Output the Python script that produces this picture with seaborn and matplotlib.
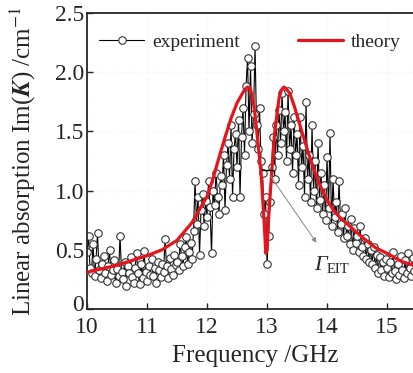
import numpy as np
import pandas as pd
import seaborn as sns
import matplotlib.pyplot as plt
from matplotlib.transforms import ScaledTranslation

# experiment: sampled every 0.025 GHz from 10 to 15.5 GHz
freq = np.round(np.arange(10.0, 15.5001, 0.025), 3)
absorption = [
    0.48, 0.62, 0.35, 0.30, 0.55, 0.28, 0.42, 0.64, 0.33, 0.26,
    0.38, 0.45, 0.30, 0.24, 0.36, 0.50, 0.29, 0.33, 0.41, 0.22,
    0.34, 0.28, 0.62, 0.31, 0.25, 0.40, 0.19, 0.36, 0.30, 0.44,
    0.27, 0.22, 0.35, 0.47, 0.30, 0.21, 0.38, 0.26, 0.49, 0.31,
    0.24, 0.36, 0.29, 0.42, 0.28, 0.35, 0.22, 0.40, 0.33, 0.27,
    0.38, 0.31, 0.59, 0.36, 0.26, 0.43, 0.34, 0.29, 0.46, 0.37,
    0.40, 0.33, 0.55, 0.45, 0.36, 0.52, 0.61, 0.38, 0.48, 0.56,
    0.42, 0.66, 1.08, 0.72, 0.95, 0.46, 0.84, 0.97, 0.70, 0.91,
    0.78, 1.08, 0.86, 0.47, 1.00, 0.88, 1.15, 0.95, 0.80, 1.12,
    1.05, 1.30, 0.84, 1.22, 1.40, 1.10, 1.55, 0.95, 1.35, 1.48,
    1.20, 1.60, 0.95, 1.45, 1.70, 1.30, 1.88, 2.12, 1.50, 2.05,
    1.40, 1.65, 2.22, 1.55, 1.35, 1.70, 1.25, 1.15, 0.80, 0.95,
    0.38, 0.62, 0.90, 1.20, 1.45, 1.10, 1.55, 1.30, 1.68, 1.40,
    1.82, 1.50, 1.66, 1.25, 1.84, 1.35, 1.55, 1.15, 1.62, 1.30,
    1.48, 1.05, 1.62, 1.20, 1.38, 0.95, 1.75, 1.10, 1.30, 0.90,
    1.55, 1.00, 1.25, 0.85, 1.40, 0.92, 1.15, 0.80, 1.05, 0.75,
    1.28, 0.85, 1.49, 0.70, 1.10, 0.78, 0.90, 0.65, 1.08, 0.72,
    0.80, 0.60, 0.85, 0.62, 0.70, 0.55, 0.76, 0.50, 0.68, 0.56,
    0.62, 0.48, 0.70, 0.52, 0.45, 0.60, 0.42, 0.55, 0.40, 0.50,
    0.38, 0.52, 0.35, 0.46, 0.30, 0.44, 0.33, 0.40, 0.28, 0.42,
    0.35, 0.27, 0.40, 0.30, 0.48, 0.32, 0.25, 0.38, 0.29, 0.45,
    0.33, 0.26, 0.41, 0.30, 0.47, 0.35, 0.28, 0.43, 0.32, 0.38,
    0.36,
]

# theory curve
theory_f = [10.0, 10.25, 10.5, 10.75, 11.0, 11.25, 11.5, 11.75, 12.0, 12.1,
            12.2, 12.3, 12.4, 12.5, 12.6, 12.64, 12.68, 12.72, 12.76, 12.8,
            12.85, 12.9, 12.95, 12.98, 13.0, 13.03, 13.08, 13.13, 13.2, 13.24,
            13.28, 13.32, 13.38, 13.45, 13.55, 13.7, 13.85, 14.0, 14.1, 14.2,
            14.4, 14.6, 14.8, 15.0, 15.25, 15.5, 15.6]
theory_v = [0.31, 0.34, 0.37, 0.41, 0.45, 0.50, 0.58, 0.73, 0.95, 1.10,
            1.28, 1.45, 1.61, 1.74, 1.83, 1.86, 1.875, 1.86, 1.79, 1.64,
            1.40, 1.15, 0.75, 0.47, 0.50, 0.80, 1.17, 1.50, 1.78, 1.85,
            1.875, 1.86, 1.82, 1.72, 1.55, 1.30, 1.08, 0.92, 0.84, 0.78,
            0.69, 0.60, 0.52, 0.47, 0.40, 0.36, 0.35]

exp_df = pd.DataFrame({'freq': freq, 'absorption': absorption})
th_df = pd.DataFrame({'freq': theory_f, 'absorption': theory_v})

sns.set_style('ticks')
plt.rcParams['font.family'] = ['Liberation Serif', 'DejaVu Serif']
plt.rcParams['mathtext.fontset'] = 'stix'
plt.rcParams['xtick.direction'] = 'in'
plt.rcParams['ytick.direction'] = 'in'

fig = plt.figure(figsize=(4.13, 3.73), dpi=100)
ax = fig.add_axes([0.2107, 0.1716, 0.8136, 0.7936])

sns.lineplot(data=exp_df, x='freq', y='absorption', ax=ax, sort=False,
             estimator=None, color='black', lw=0.8, marker='o', markersize=5.4,
             markerfacecolor='white', markeredgecolor='#333333',
             markeredgewidth=0.8, label='experiment', zorder=2)
sns.lineplot(data=th_df, x='freq', y='absorption', ax=ax, sort=False,
             estimator=None, color='#e8141c', lw=2.3, label='theory', zorder=3)

# Gamma_EIT width marker
ax.plot([12.92, 13.1], [1.17, 1.17], color='black', lw=1.0, zorder=4)
ax.annotate('', xy=(13.85, 0.54), xytext=(13.02, 1.15),
            arrowprops=dict(arrowstyle='-|>', color='#888888', lw=0.7,
                            mutation_scale=7))
ax.text(14.0, 0.37, 'Γ', fontsize=16, style='italic', ha='right', va='center')
ax.text(14.0, 0.33, 'EIT', fontsize=10.5, ha='left', va='center')

ax.set_xlim(10, 15.6)
ax.set_ylim(0, 2.5)
ax.set_xticks([10, 11, 12, 13, 14, 15])
ax.set_yticks([0, 0.5, 1.0, 1.5, 2.0, 2.5])
ax.set_yticklabels(['0', '0.5', '1.0', '1.5', '2.0', '2.5'])
ax.tick_params(labelsize=17, length=4, width=1.0)
ax.tick_params(axis='x', pad=6)
ax.tick_params(axis='y', pad=2)
# the "0" sits a little higher, tucked into the corner
zero_lbl = ax.get_yticklabels()[0]
zero_lbl.set_transform(zero_lbl.get_transform() +
                       ScaledTranslation(0, 4 / 72, fig.dpi_scale_trans))
ax.grid(color='#f2f2f2', ls=':', lw=0.8)
for s in ax.spines.values():
    s.set_linewidth(1.3)

ax.set_xlabel('Frequency /GHz', fontsize=18, labelpad=5)
ax.set_ylabel(r'Linear absorption Im($\boldsymbol{K}$) /cm$^{-1}$', fontsize=18,
              labelpad=12)

ax.legend(loc='upper left', bbox_to_anchor=(-0.015, 0.99), ncol=2, frameon=False,
          fontsize=14, handlelength=2.3, columnspacing=3.0, handletextpad=0.4)

fig.savefig('out.png', dpi=100)
